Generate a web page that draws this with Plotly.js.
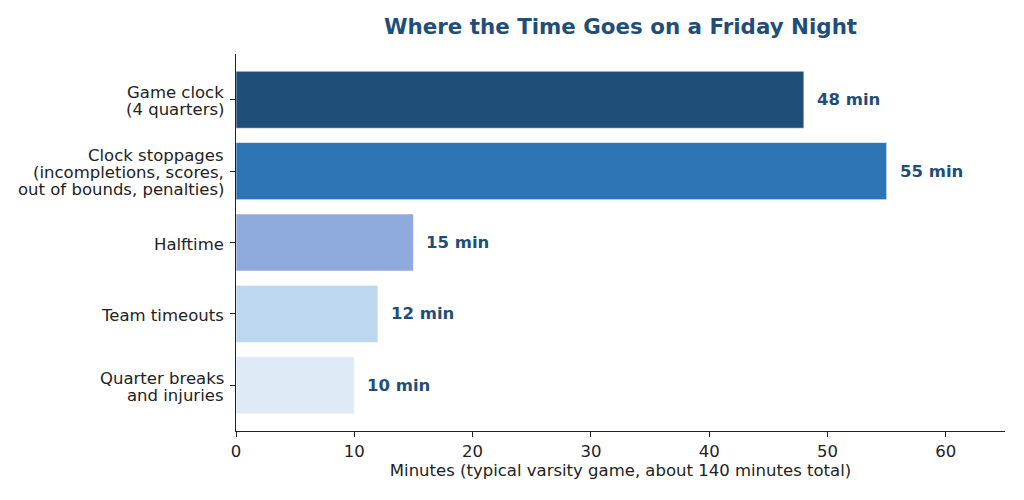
<!DOCTYPE html>
<html>
<head>
<meta charset="utf-8">
<script src="https://cdn.plot.ly/plotly-3.0.1.min.js"></script>
<style>html,body{margin:0;padding:0;background:#fff;}#chart{width:1024px;height:500px;}</style>
</head>
<body>
<div id="chart"></div>
<script>
const categories = [
  "Game clock\n(4 quarters)",
  "Clock stoppages\n(incompletions, scores,\nout of bounds, penalties)",
  "Halftime",
  "Team timeouts",
  "Quarter breaks\nand injuries"
];
const minutes = [48, 55, 15, 12, 10];
const barColors = ["#1f4e79", "#2e75b6", "#8faadc", "#bdd7ee", "#deebf7"];
const valueLabels = minutes.map(v => v + " min");
const xTicks = [0, 10, 20, 30, 40, 50, 60];

const font = "DejaVu Sans, sans-serif";
const lineGap = 17.3;

const trace = {
  type: "bar",
  orientation: "h",
  x: minutes,
  y: categories,
  width: 0.8,
  marker: {color: barColors, line: {color: "rgba(255,255,255,0.6)", width: 1}},
  hoverinfo: "skip"
};

const annotations = minutes.map((v, i) => ({
  x: v, y: categories[i], xref: "x", yref: "y",
  text: "<b>" + valueLabels[i] + "</b>",
  showarrow: false, xanchor: "left", yanchor: "middle", xshift: 11,
  font: {family: font, size: 16.5, color: "#1f4e79"}
}));

categories.forEach(cat => {
  const lines = cat.split("\n");
  const n = lines.length;
  lines.forEach((ln, k) => {
    annotations.push({
      x: 0, xref: "paper", y: cat, yref: "y",
      text: ln, showarrow: false, xanchor: "right", yanchor: "middle",
      xshift: -10, yshift: ((n - 1) / 2 - k) * lineGap - 1.5,
      font: {family: font, size: 16.5, color: "#222"}
    });
  });
});

const layout = {
  width: 1024, height: 500,
  margin: {l: 236, r: 19, t: 54, b: 69},
  paper_bgcolor: "#fff", plot_bgcolor: "#fff",
  showlegend: false,
  title: {
    text: "<b>Where the Time Goes on a Friday Night</b>",
    font: {family: font, size: 21.4, color: "#1f4e79"},
    x: 0.5, xref: "paper", y: 1 - 27/500, yref: "container", yanchor: "middle"
  },
  xaxis: {
    range: [0, 65],
    tickvals: xTicks,
    ticktext: xTicks.map(String),
    showgrid: false, zeroline: false,
    showline: true, linecolor: "#222", linewidth: 1,
    ticks: "outside", ticklen: 5, tickwidth: 1, tickcolor: "#222",
    tickfont: {family: font, size: 16.5, color: "#222"},
    title: {text: "Minutes (typical varsity game, about 140 minutes total)", font: {family: font, size: 16.5, color: "#222"}, standoff: 3},
    automargin: false, fixedrange: true
  },
  yaxis: {
    type: "category",
    range: [4.64, -0.64],
    showgrid: false, zeroline: false,
    showline: true, linecolor: "#222", linewidth: 1,
    ticks: "outside", ticklen: 5, tickwidth: 1, tickcolor: "#222",
    showticklabels: false,
    automargin: false, fixedrange: true
  },
  annotations: annotations
};

Plotly.newPlot("chart", [trace], layout, {displayModeBar: false, staticPlot: true});
</script>
</body>
</html>
